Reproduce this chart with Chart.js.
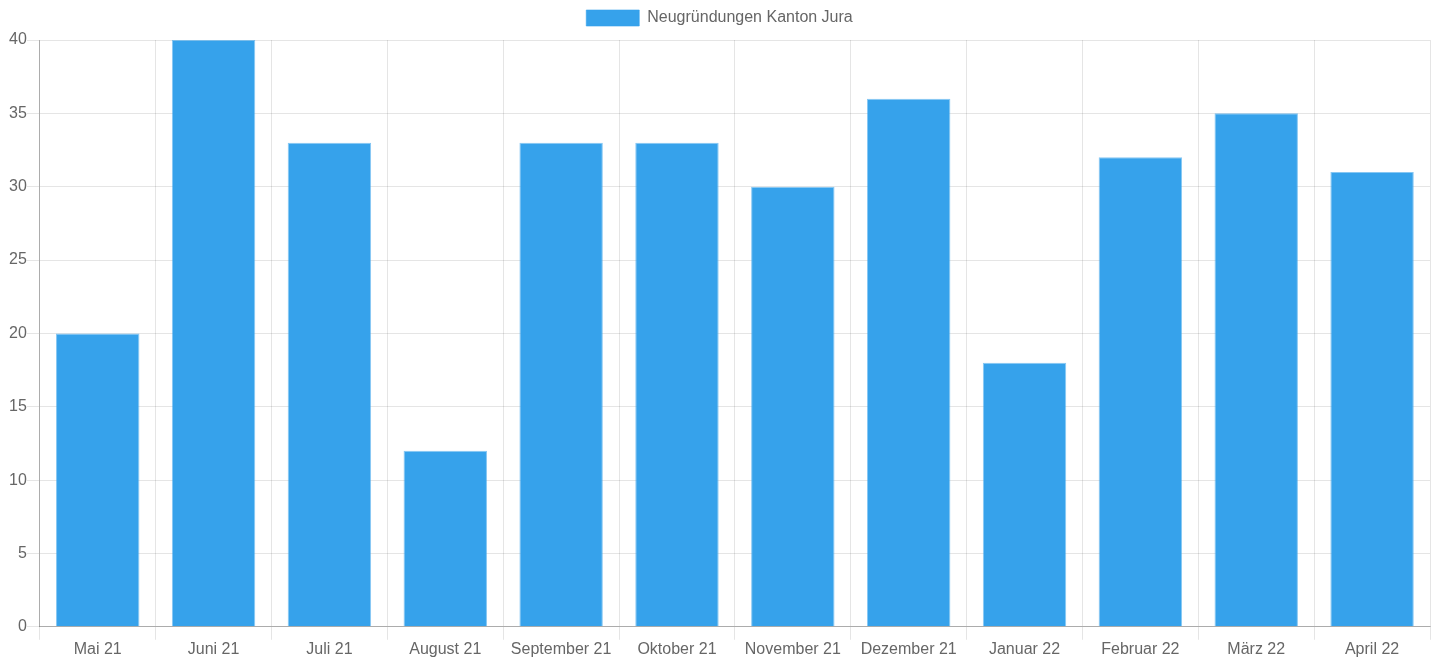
<!DOCTYPE html>
<html>
<head>
<meta charset="utf-8">
<script src="https://cdn.jsdelivr.net/npm/chart.js@4"></script>
<style>
html,body{margin:0;padding:0;background:#fff;}
#wrap{width:1436px;height:657px;position:relative;}
</style>
</head>
<body>
<div id="wrap"><canvas id="c"></canvas></div>
<script>
const categories = ["Mai 21","Juni 21","Juli 21","August 21","September 21","Oktober 21","November 21","Dezember 21","Januar 22","Februar 22","März 22","April 22"];
const seriesLabel = "Neugründungen Kanton Jura";
const seriesValues = [20,40,33,12,33,33,30,36,18,32,35,31];
const yTicks = {min:0,max:40,step:5};

Chart.defaults.font.family = "'Liberation Sans', Arial, Helvetica, sans-serif";
Chart.defaults.font.size = 16;
Chart.defaults.color = "#666";

const legendGap = {
  id: 'legendGap',
  beforeInit(chart) {
    const orig = chart.legend.fit;
    chart.legend.fit = function () {
      orig.call(this);
      this.height += 4;
    };
  }
};

new Chart(document.getElementById('c'), {
  type: 'bar',
  data: {
    labels: categories,
    datasets: [{
      label: seriesLabel,
      data: seriesValues,
      backgroundColor: 'rgb(54,162,235)',
      borderColor: 'rgba(54,162,235,0.6)',
      borderWidth: 1,
      categoryPercentage: 0.8,
      barPercentage: 0.9
    }]
  },
  plugins: [legendGap],
  options: {
    responsive: true,
    maintainAspectRatio: false,
    animation: false,
    layout: {padding: {left: 9, right: 6, top: 0, bottom: -2}},
    plugins: {
      legend: {
        labels: {boxWidth: 53, boxHeight: 16, padding: 10, color: '#666'}
      },
      tooltip: {enabled: false}
    },
    scales: {
      x: {
        grid: {color: 'rgba(0,0,0,0.1)', offset: true, tickLength: 13},
        border: {color: 'rgba(0,0,0,0.25)'},
        ticks: {color: '#666', padding: 0}
      },
      y: {
        min: yTicks.min, max: yTicks.max,
        grid: {color: 'rgba(0,0,0,0.1)', tickLength: 13},
        border: {color: 'rgba(0,0,0,0.25)'},
        ticks: {stepSize: yTicks.step, color: '#666', padding: 0}
      }
    }
  }
});
</script>
</body>
</html>
